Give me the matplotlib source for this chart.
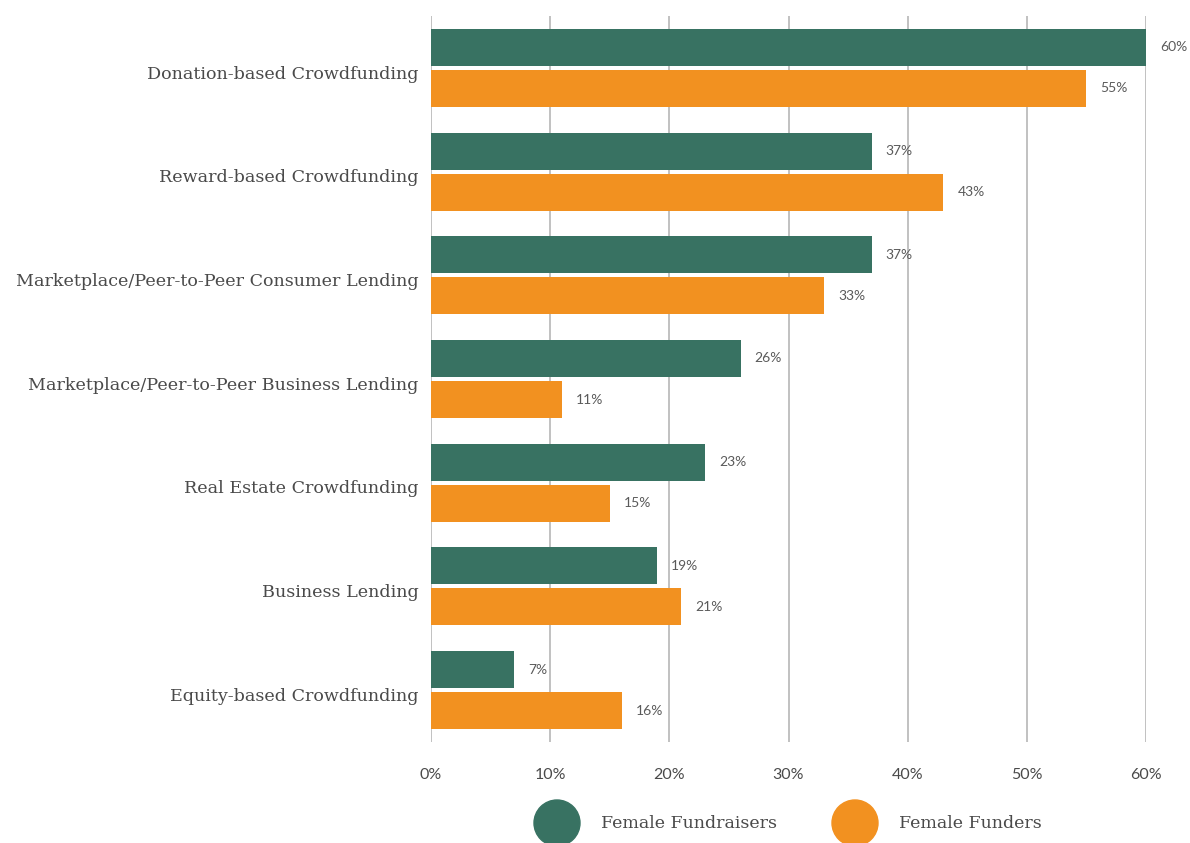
import matplotlib
matplotlib.use("Agg")
import matplotlib.pyplot as plt
from matplotlib.patches import Circle
import numpy as np

categories = ["Donation-based Crowdfunding", "Reward-based Crowdfunding",
              "Marketplace/Peer-to-Peer Consumer Lending",
              "Marketplace/Peer-to-Peer Business Lending",
              "Real Estate Crowdfunding", "Business Lending",
              "Equity-based Crowdfunding"]
fundraisers = [60, 37, 37, 26, 23, 19, 7]
funders = [55, 43, 33, 11, 15, 21, 16]
series_names = ["Female Fundraisers", "Female Funders"]
xticks = [0, 10, 20, 30, 40, 50, 60]

GREEN = "#387262"
ORANGE = "#F29120"
TXT = "#4a4a4a"
SERIF = ["DejaVu Serif"]
SANS = ["Lato", "DejaVu Sans"]

fig = plt.figure(figsize=(11.9, 8.43), dpi=100)
ax = fig.add_axes([431/1190, 1-742/843, (1146-431)/1190, (742-16)/843])

y = np.arange(len(categories))
h = 0.357
off = 0.198
ax.barh(y - off, fundraisers, height=h, color=GREEN, zorder=3)
ax.barh(y + off, funders, height=h, color=ORANGE, zorder=3)

for yi, v in zip(y, fundraisers):
    ax.annotate(f"{v}%", (v, yi - off), xytext=(10, 0), textcoords="offset points",
                va="center", ha="left", fontsize=10, color="#5a5a5a", family=SANS)
for yi, v in zip(y, funders):
    ax.annotate(f"{v}%", (v, yi + off), xytext=(10, 0), textcoords="offset points",
                va="center", ha="left", fontsize=10, color="#5a5a5a", family=SANS)

ax.set_xlim(0, 60)
ax.set_ylim(6.5, -0.5)
ax.set_xticks(xticks)
ax.set_xticklabels([f"{t}%" for t in xticks], family=SANS, fontsize=11.5, color=TXT)
ax.set_yticks(y + 0.04)
ax.set_yticklabels(categories, family=SERIF, fontsize=12.6, color=TXT)
ax.tick_params(axis="y", length=0, pad=9)
ax.tick_params(axis="x", length=0, pad=19)
ax.grid(axis="x", color="#b0b0b0", linewidth=1.1, zorder=0)
for s in ax.spines.values():
    s.set_visible(False)

# legend
for cx, col, name, tx in [(5.57, GREEN, series_names[0], 6.01), (8.55, ORANGE, series_names[1], 8.99)]:
    fig.add_artist(Circle((cx, 0.20), 0.23, color=col, transform=fig.dpi_scale_trans))
    fig.text(tx, 0.20, name, transform=fig.dpi_scale_trans, va="center", ha="left",
             family=SERIF, fontsize=12.5, color=TXT)

fig.savefig("out.png", dpi=100, facecolor="white")
